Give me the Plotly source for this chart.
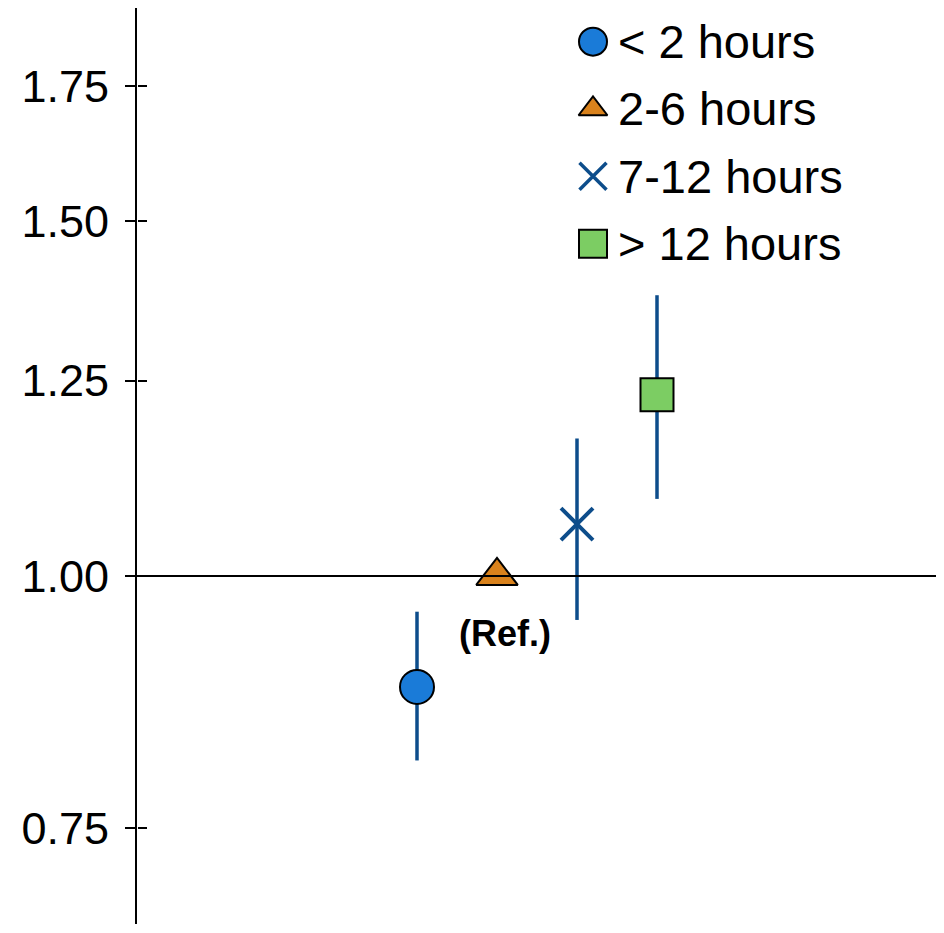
import math
import plotly.graph_objects as go

# ---- data ----
categories = ["< 2 hours", "2-6 hours", "7-12 hours", "> 12 hours"]
estimates = [0.881, 1.00, 1.061, 1.230]
lower_ci = [0.810, None, 0.951, 1.092]
upper_ci = [0.960, None, 1.170, 1.378]
y_ticks = [0.75, 1.00, 1.25, 1.50, 1.75]
y_tick_labels = ["0.75", "1.00", "1.25", "1.50", "1.75"]
ref_label = "(Ref.)"

# ---- styles ----
symbols = ["circle", "triangle-up", "x-thin", "square"]
sizes = [34, 36, 32, 33]
legend_sizes = [28, 25, 27, 28]
fills = ["#1a7bd8", "#d9821c", "#0d4d8b", "#7ccd63"]
ci_color = "#0d4d8b"
FONT = "Arial, Liberation Sans, sans-serif"

y_lo, y_hi = 0.672, 1.913
x_lo, x_hi = -3.5, 6.5


def marker_style(i, size):
    if symbols[i] == "x-thin":
        return dict(symbol="x-thin", size=size, color=fills[i],
                    line=dict(color=fills[i], width=4 if size > 30 else 3.5))
    return dict(symbol=symbols[i], size=size, color=fills[i],
                line=dict(color="black", width=2))


fig = go.Figure()
for i, cat in enumerate(categories):
    err = None
    if lower_ci[i] is not None:
        err = dict(type="data", symmetric=False,
                   array=[upper_ci[i] - estimates[i]],
                   arrayminus=[estimates[i] - lower_ci[i]],
                   color=ci_color, thickness=3.5, width=0)
    fig.add_trace(go.Scatter(
        x=[i], y=[estimates[i]], mode="markers", name=cat,
        marker=marker_style(i, sizes[i]), error_y=err, showlegend=False,
    ))

# dummy invisible trace to activate the overlaid tick axis (inside half of crossing ticks)
fig.add_trace(go.Scatter(x=[None], y=[None], yaxis="y2", showlegend=False,
                         hoverinfo="skip", mode="markers"))

# legend drawn as its own small subplot (one marker per category + label)
for i, cat in enumerate(categories):
    fig.add_trace(go.Scatter(
        x=[0], y=[cat], xaxis="x3", yaxis="y3", mode="markers",
        marker=marker_style(i, legend_sizes[i]), showlegend=False,
        cliponaxis=False, hoverinfo="skip",
    ))
    fig.add_annotation(x=0, y=cat, xref="x3", yref="y3", text=cat,
                       showarrow=False, xanchor="left", yanchor="middle", xshift=23,
                       font=dict(family=FONT, size=47, color="black"))

# annotation for reference category
ref_idx = categories.index("2-6 hours")
fig.add_annotation(x=ref_idx, y=math.log10(estimates[ref_idx]), text="<b>" + ref_label + "</b>",
                   showarrow=False, yshift=-58, xshift=8,
                   font=dict(family=FONT, size=36, color="black"))

xpos = (0 - math.log10(y_lo)) / (math.log10(y_hi) - math.log10(y_lo))

fig.update_layout(
    width=936, height=925,
    margin=dict(l=129, r=7, t=0, b=9),
    paper_bgcolor="white", plot_bgcolor="white",
    font=dict(family=FONT, color="black"),
    showlegend=False,
    xaxis=dict(range=[x_lo, x_hi], showgrid=False, zeroline=False,
               showline=True, linecolor="black", linewidth=2,
               anchor="free", position=xpos,
               tickmode="array", tickvals=[x_hi], ticktext=[""],
               ticks="outside", ticklen=14, tickwidth=2, tickcolor="black",
               showticklabels=False),
    yaxis=dict(type="log", range=[math.log10(y_lo), math.log10(y_hi)],
               showgrid=False, zeroline=False,
               showline=True, linecolor="black", linewidth=2,
               tickmode="array", tickvals=y_ticks, ticktext=y_tick_labels,
               ticks="outside", ticklen=10, tickwidth=2, tickcolor="black",
               ticklabelstandoff=7,
               tickfont=dict(family=FONT, size=45, color="black")),
    yaxis2=dict(type="log", range=[math.log10(y_lo), math.log10(y_hi)],
                overlaying="y", anchor="free", position=0, side="left",
                showgrid=False, zeroline=False, visible=True,
                showline=False, tickmode="array", tickvals=y_ticks,
                ticktext=[""] * len(y_ticks),
                ticks="inside", ticklen=9, tickwidth=2, tickcolor="black",
                showticklabels=False),
    xaxis3=dict(domain=[0.57, 1.0], range=[0, 1], visible=False, anchor="y3",
                fixedrange=True),
    yaxis3=dict(domain=[0.706, 1.0], type="category", categoryarray=categories,
                categoryorder="array", range=[len(categories) - 0.5, -0.5],
                visible=False, anchor="x3", fixedrange=True),
)

fig.write_html("out.html")
